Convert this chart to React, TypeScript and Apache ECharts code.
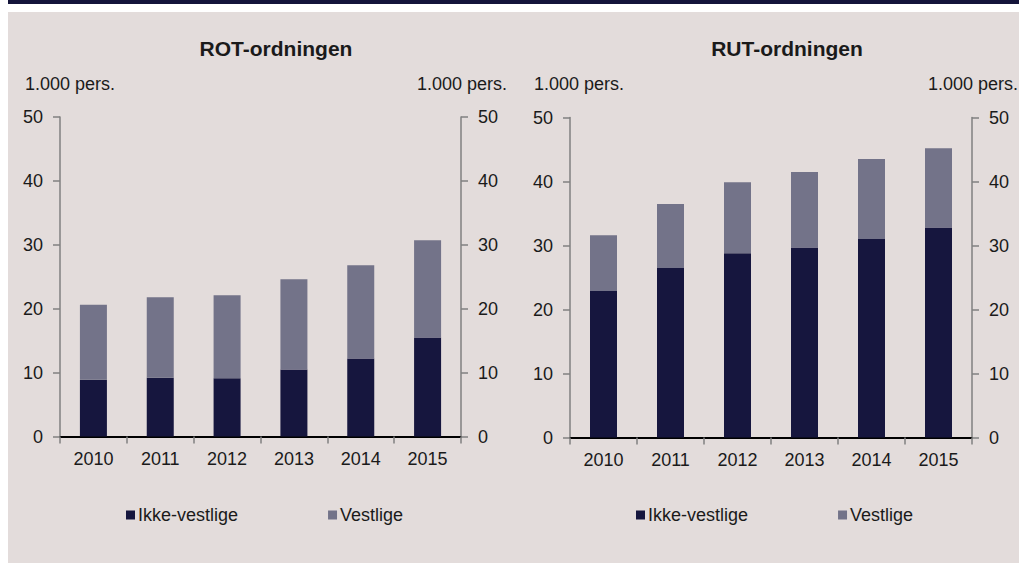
import React, { useEffect, useRef } from "react";
import * as echarts from "echarts";

const categories = ["2010", "2011", "2012", "2013", "2014", "2015"];
const seriesNames = ["Ikke-vestlige", "Vestlige"];
const rotIkkeVestlige = [8.9, 9.2, 9.1, 10.5, 12.2, 15.5];
const rotVestlige = [11.7, 12.6, 13.0, 14.1, 14.6, 15.2];
const rutIkkeVestlige = [22.9, 26.5, 28.8, 29.7, 31.0, 32.8];
const rutVestlige = [8.7, 10.0, 11.1, 11.8, 12.5, 12.4];
const panelTitles = ["ROT-ordningen", "RUT-ordningen"];
const unitLabel = "1.000 pers.";
const yMin = 0;
const yMax = 50;
const yInterval = 10;

const DARK = "#16163e";
const LIGHT = "#737389";
const TEXT = "#1a1a1a";
const FONT = "Liberation Sans, Arial, sans-serif";

export default function App() {
  const ref = useRef<HTMLDivElement>(null);
  useEffect(() => {
    if (!ref.current) return;
    const chart = echarts.init(ref.current, undefined, { renderer: "svg" });
    const grids = [
      { left: 60, top: 117, width: 401, height: 319.5 },
      { left: 570, top: 117.5, width: 402, height: 320 },
    ];
    const xAxes = grids.map((_, i) => ({
      type: "category",
      gridIndex: i,
      data: categories,
      axisLine: { lineStyle: { color: "#000", width: 2 } },
      axisTick: { show: true, length: 7, lineStyle: { color: "#808080", width: 1.5 } },
      axisLabel: { color: TEXT, fontSize: 18, fontFamily: FONT, margin: 13 },
    }));
    const yAxes: any[] = [];
    grids.forEach((_, i) => {
      ["left", "right"].forEach((pos) => {
        yAxes.push({
          type: "value",
          gridIndex: i,
          position: pos,
          min: yMin,
          max: yMax,
          interval: yInterval,
          splitLine: { show: false },
          axisLine: { show: true, lineStyle: { color: "#808080", width: 1.5 } },
          axisTick: { show: true, length: 7, lineStyle: { color: "#808080", width: 1.5 } },
          axisLabel: { color: TEXT, fontSize: 18, fontFamily: FONT, margin: 17 },
        });
      });
    });
    const mkBar = (name: string, data: number[], grid: number, color: string, stack: string) => ({
      name,
      type: "bar",
      stack,
      xAxisIndex: grid,
      yAxisIndex: grid * 2,
      data,
      barWidth: 27,
      itemStyle: { color },
      emphasis: { disabled: true },
    });
    const textEl = (text: string, x: number, y: number, align: string, bold = false, size = 18) => ({
      type: "text",
      x,
      y,
      style: {
        text,
        fill: TEXT,
        font: `${bold ? "bold " : ""}${size}px ${FONT}`,
        textAlign: align,
        textVerticalAlign: "middle",
      },
    });
    const legendBase = {
      top: 501,
      data: seriesNames,
      icon: "rect",
      itemWidth: 9,
      itemHeight: 9,
      itemGap: 90,
      textStyle: { color: TEXT, fontSize: 18, fontFamily: FONT, padding: [0, 0, 0, -2] },
      selectedMode: false,
    };
    chart.setOption({
      animation: false,
      backgroundColor: "transparent",
      grid: grids,
      xAxis: xAxes,
      yAxis: yAxes,
      legend: [
        { ...legendBase, left: 121 },
        { ...legendBase, left: 631 },
      ],
      graphic: [
        textEl(panelTitles[0], 276, 48, "center", true, 21),
        textEl(panelTitles[1], 787, 48, "center", true, 21),
        textEl(unitLabel, 25, 84, "left"),
        textEl(unitLabel, 507, 84, "right"),
        textEl(unitLabel, 534, 84, "left"),
        textEl(unitLabel, 1018, 84, "right"),
      ],
      series: [
        mkBar(seriesNames[0], rotIkkeVestlige, 0, DARK, "rot"),
        mkBar(seriesNames[1], rotVestlige, 0, LIGHT, "rot"),
        mkBar(seriesNames[0], rutIkkeVestlige, 1, DARK, "rut"),
        mkBar(seriesNames[1], rutVestlige, 1, LIGHT, "rut"),
      ],
    });
    return () => chart.dispose();
  }, []);
  return (
    <div style={{ position: "fixed", left: 0, top: 0, width: 1019, height: 563, background: "#ffffff" }}>
      <div style={{ position: "absolute", left: 8, top: 0, width: 1011, height: 4, background: "#14143a" }} />
      <div style={{ position: "absolute", left: 8, top: 12, width: 1011, height: 551, background: "#e3dcdb" }} />
      <div ref={ref} style={{ position: "absolute", left: 0, top: 0, width: 1019, height: 563 }} />
    </div>
  );
}
